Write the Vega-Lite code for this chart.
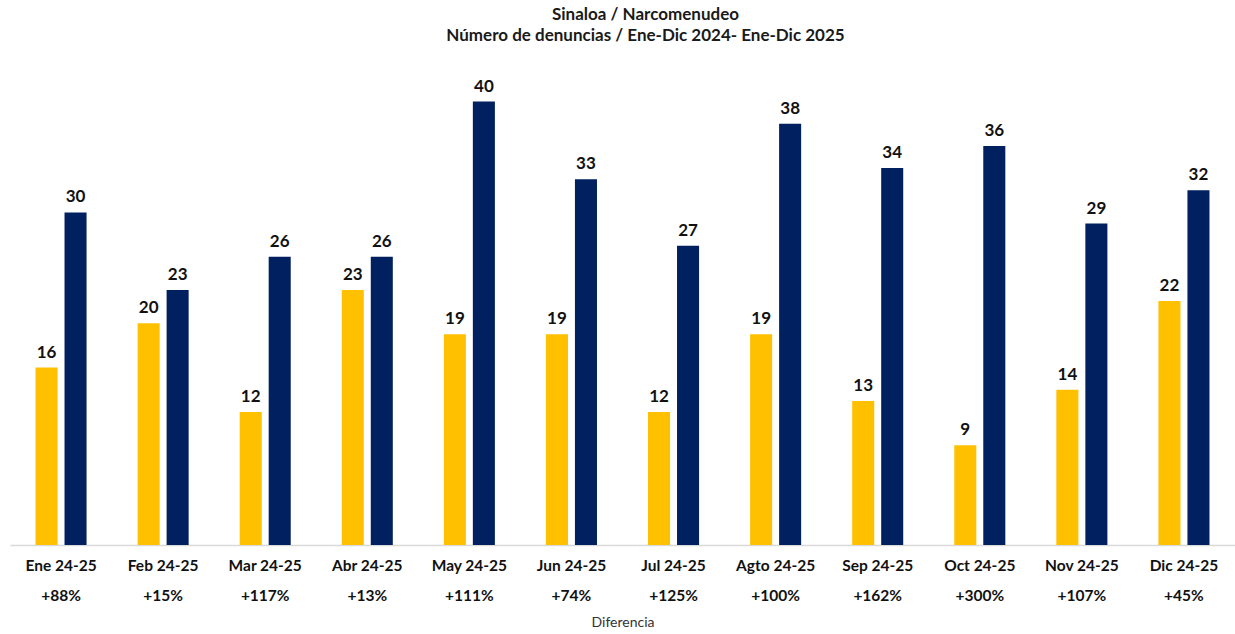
{
  "$schema": "https://vega.github.io/schema/vega-lite/v6.json",
  "width": 1225,
  "height": 490,
  "padding": {"left": 10, "right": 0, "top": 6, "bottom": 0},
  "background": "white",
  "title": {
    "text": ["Sinaloa / Narcomenudeo", "Número de denuncias / Ene-Dic 2024- Ene-Dic 2025"],
    "font": "Lato",
    "fontSize": 17,
    "fontWeight": "bold",
    "color": "#1a1a1a",
    "lineHeight": 21,
    "anchor": "middle",
    "dx": 23,
    "offset": 10
  },
  "data": {
    "values": [
      {"mes": "Ene 24-25", "dif": "+88%", "serie": "2024", "valor": 16},
      {"mes": "Ene 24-25", "dif": "+88%", "serie": "2025", "valor": 30},
      {"mes": "Feb 24-25", "dif": "+15%", "serie": "2024", "valor": 20},
      {"mes": "Feb 24-25", "dif": "+15%", "serie": "2025", "valor": 23},
      {"mes": "Mar 24-25", "dif": "+117%", "serie": "2024", "valor": 12},
      {"mes": "Mar 24-25", "dif": "+117%", "serie": "2025", "valor": 26},
      {"mes": "Abr 24-25", "dif": "+13%", "serie": "2024", "valor": 23},
      {"mes": "Abr 24-25", "dif": "+13%", "serie": "2025", "valor": 26},
      {"mes": "May 24-25", "dif": "+111%", "serie": "2024", "valor": 19},
      {"mes": "May 24-25", "dif": "+111%", "serie": "2025", "valor": 40},
      {"mes": "Jun 24-25", "dif": "+74%", "serie": "2024", "valor": 19},
      {"mes": "Jun 24-25", "dif": "+74%", "serie": "2025", "valor": 33},
      {"mes": "Jul 24-25", "dif": "+125%", "serie": "2024", "valor": 12},
      {"mes": "Jul 24-25", "dif": "+125%", "serie": "2025", "valor": 27},
      {"mes": "Agto 24-25", "dif": "+100%", "serie": "2024", "valor": 19},
      {"mes": "Agto 24-25", "dif": "+100%", "serie": "2025", "valor": 38},
      {"mes": "Sep 24-25", "dif": "+162%", "serie": "2024", "valor": 13},
      {"mes": "Sep 24-25", "dif": "+162%", "serie": "2025", "valor": 34},
      {"mes": "Oct 24-25", "dif": "+300%", "serie": "2024", "valor": 9},
      {"mes": "Oct 24-25", "dif": "+300%", "serie": "2025", "valor": 36},
      {"mes": "Nov 24-25", "dif": "+107%", "serie": "2024", "valor": 14},
      {"mes": "Nov 24-25", "dif": "+107%", "serie": "2025", "valor": 29},
      {"mes": "Dic 24-25", "dif": "+45%", "serie": "2024", "valor": 22},
      {"mes": "Dic 24-25", "dif": "+45%", "serie": "2025", "valor": 32}
    ]
  },
  "transform": [
    {"calculate": "datum.mes + '|' + datum.dif", "as": "cat"}
  ],
  "encoding": {
    "x": {
      "field": "cat",
      "type": "nominal",
      "sort": null,
      "scale": {"paddingInner": 0.5, "paddingOuter": 0.25},
      "axis": {
        "title": "Diferencia",
        "titleFont": "Lato",
        "titleFontSize": 14,
        "titleFontWeight": "normal",
        "titleColor": "#333333",
        "titlePadding": 12,
        "labelExpr": "split(datum.label, '|')",
        "labelFont": "Lato",
        "labelFontSize": 15.5,
        "labelFontWeight": "bold",
        "labelColor": "#111111",
        "labelLineHeight": 30,
        "labelAngle": 0,
        "labelPadding": 13,
        "labelBaseline": "top",
        "ticks": false,
        "domainColor": "#d9d9d9",
        "domainWidth": 1.5
      }
    },
    "xOffset": {
      "field": "serie",
      "type": "nominal",
      "scale": {"paddingInner": 0.24, "paddingOuter": 0}
    },
    "y": {
      "field": "valor",
      "type": "quantitative",
      "scale": {"domain": [0, 44.2], "nice": false},
      "axis": null
    }
  },
  "layer": [
    {
      "mark": {"type": "bar"},
      "encoding": {
        "color": {
          "field": "serie",
          "type": "nominal",
          "scale": {"domain": ["2024", "2025"], "range": ["#FFC000", "#002060"]},
          "legend": null
        }
      }
    },
    {
      "mark": {"type": "text", "dy": -15, "font": "Lato", "fontSize": 17, "fontWeight": "bold", "color": "#111111"},
      "encoding": {
        "text": {"field": "valor", "type": "quantitative"}
      }
    }
  ],
  "config": {"view": {"stroke": null}}
}
